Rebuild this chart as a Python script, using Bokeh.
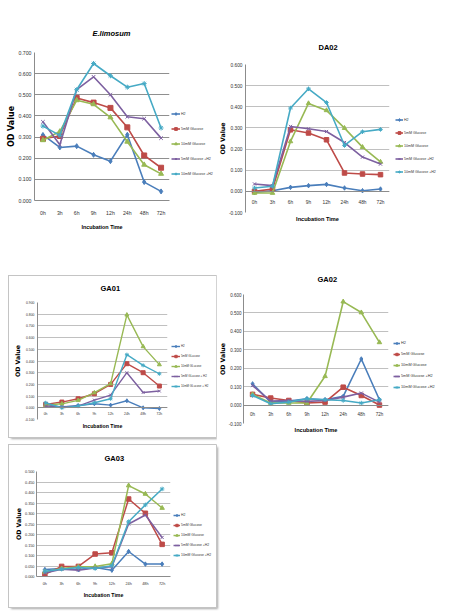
from bokeh.plotting import figure
from bokeh.models import (FactorRange, Range1d, FixedTicker, NumeralTickFormatter,
                          Legend, LegendItem, Title, Spacer)
from bokeh.layouts import row, column
from bokeh.embed import file_html
from bokeh.resources import INLINE

cats = ["0h", "3h", "6h", "9h", "12h", "24h", "48h", "72h"]

# E.limosum
el_h2 = [0.310, 0.251, 0.257, 0.216, 0.186, 0.311, 0.087, 0.043]
el_g5 = [0.292, 0.305, 0.485, 0.463, 0.438, 0.346, 0.213, 0.155]
el_g10 = [0.285, 0.326, 0.474, 0.455, 0.393, 0.278, 0.169, 0.126]
el_g5h2 = [0.372, 0.264, 0.524, 0.585, 0.500, 0.396, 0.387, 0.295]
el_g10h2 = [0.352, 0.308, 0.524, 0.648, 0.590, 0.536, 0.553, 0.343]
el_ticks = [0.0, 0.1, 0.2, 0.3, 0.4, 0.5, 0.6, 0.7]
el_labels = ["H2", "5mM Glucose", "10mM Glucose", "5mM Glucose +H2", "10mM Glucose +H2"]

# DA02
da_h2 = [-0.005, 0.003, 0.019, 0.027, 0.033, 0.016, 0.003, 0.011]
da_g5 = [0.000, 0.011, 0.291, 0.276, 0.244, 0.087, 0.082, 0.079]
da_g10 = [-0.008, -0.008, 0.236, 0.416, 0.383, 0.299, 0.209, 0.139]
da_g5h2 = [0.035, 0.027, 0.307, 0.296, 0.283, 0.231, 0.162, 0.129]
da_g10h2 = [0.016, 0.024, 0.394, 0.485, 0.420, 0.217, 0.282, 0.293]
da_ticks = [-0.1, 0.0, 0.1, 0.2, 0.3, 0.4, 0.5, 0.6]
da_labels = ["H2", "5mM Glucose", "10mM Glucose", "5mM Glucose +H2", "10mM Glucose +H2"]

# GA01
g1_h2 = [0.029, 0.006, 0.020, 0.034, 0.023, 0.060, 0.000, -0.006]
g1_g5 = [0.029, 0.049, 0.077, 0.120, 0.200, 0.377, 0.300, 0.186]
g1_g10 = [0.023, 0.034, 0.063, 0.129, 0.206, 0.794, 0.523, 0.369]
g1_g5h2 = [0.014, 0.009, 0.014, 0.066, 0.109, 0.300, 0.131, 0.143]
g1_g10h2 = [0.043, 0.000, 0.014, 0.043, 0.077, 0.454, 0.363, 0.291]
g1_ticks = [-0.1, 0.0, 0.1, 0.2, 0.3, 0.4, 0.5, 0.6, 0.7, 0.8, 0.9]
g1_labels = ["H2", "5mM GLucose", "10mM GLucose", "5mM GLucose + H2", "10mM GLucose + H2"]

# GA02
g2_h2 = [0.115, 0.016, 0.022, 0.034, 0.029, 0.047, 0.250, 0.029]
g2_g5 = [0.058, 0.038, 0.025, 0.011, 0.016, 0.097, 0.052, 0.000]
g2_g10 = [0.058, 0.011, 0.011, 0.011, 0.156, 0.561, 0.502, 0.340]
g2_g5h2 = [0.106, 0.022, 0.025, 0.020, 0.025, 0.043, 0.065, 0.016]
g2_g10h2 = [0.052, 0.007, 0.016, 0.034, 0.029, 0.025, 0.011, 0.029]
g2_ticks = [-0.1, 0.0, 0.1, 0.2, 0.3, 0.4, 0.5, 0.6]
g2_labels = ["H2", "5mM Glucose", "10mM Glucose", "5mM Glucose +H2", "10mM Glucose +H2"]

# GA03
g3_h2 = [0.033, 0.038, 0.033, 0.043, 0.030, 0.119, 0.059, 0.059]
g3_g5 = [0.010, 0.048, 0.048, 0.107, 0.113, 0.369, 0.301, 0.153]
g3_g10 = [0.022, 0.038, 0.046, 0.048, 0.061, 0.433, 0.393, 0.326]
g3_g5h2 = [0.016, 0.035, 0.030, 0.040, 0.046, 0.250, 0.293, 0.186]
g3_g10h2 = [0.025, 0.035, 0.043, 0.038, 0.051, 0.261, 0.341, 0.417]
g3_ticks = [0.0, 0.05, 0.1, 0.15, 0.2, 0.25, 0.3, 0.35, 0.4, 0.45, 0.5]
g3_labels = ["H2", "5mM Glucose", "10mM Glucose", "5mM Glucose +H2", "10mM Glucose +H2"]

COLORS = ["#4A7EBB", "#BE4B48", "#98B954", "#7D60A0", "#46AAC5"]
MARKERS = ["diamond", "square", "triangle", "x", "asterisk"]
BASE = "Liberation Sans"
WIDE = "DejaVu Sans"
BOX = {"outline": "1px solid #c4c4c4", "box-shadow": "2px 2px 2px #a8a8a8"}


def main_fig(s):
    W, H = s["W"], s["H"]
    bl, br, bt, bb = s["borders"]
    p = figure(width=W, height=H, x_range=FactorRange(factors=cats, range_padding=0),
               y_range=Range1d(s["ticks"][0], s["ticks"][-1]),
               output_backend="svg", toolbar_location=None,
               min_border_left=bl, min_border_right=br, min_border_top=bt, min_border_bottom=bb,
               background_fill_color="white", border_fill_color="white",
               outline_line_color=None)
    for i, vals in enumerate(s["series"]):
        p.line(cats, vals, line_color=COLORS[i], line_width=s["lw"])
        p.scatter(cats, vals, marker=MARKERS[i], size=s["ms"],
                  fill_color=COLORS[i], line_color=COLORS[i], line_width=1)

    tf = f"{s['tick_fs']}px"
    ya = p.yaxis[0]
    ya.ticker = FixedTicker(ticks=s["ticks"])
    ya.formatter = NumeralTickFormatter(format="0.000")
    ya.major_label_text_font = BASE
    ya.major_label_text_font_size = tf
    ya.major_label_text_color = "#333333"
    ya.major_label_standoff = s["ystand"]
    ya.major_tick_line_color = None
    ya.major_tick_out = 0
    ya.major_tick_in = 0
    ya.minor_tick_line_color = None
    ya.minor_tick_out = 0
    ya.minor_tick_in = 0
    ya.axis_line_color = "#8c8c8c"

    xa = p.xaxis[0]
    xa.major_label_text_font = BASE
    xa.major_label_text_font_size = tf
    xa.major_label_text_color = "#333333"
    xa.major_label_standoff = s["xstand"]
    xa.major_tick_line_color = None
    xa.major_tick_out = 0
    xa.major_tick_in = 0
    xa.axis_line_color = "#8c8c8c"
    if s["fixed"]:
        xa.fixed_location = 0

    p.xgrid.visible = False
    p.ygrid.grid_line_color = s["grid"]
    p.ygrid.grid_line_width = 1

    p.title.text = s["title"]
    p.title.align = "left"
    p.title.vertical_align = "top"
    p.title.offset = s["title_off"]
    p.title.standoff = s["title_stand"]
    p.title.text_font = BASE
    p.title.text_font_style = s["title_style"]
    p.title.text_font_size = f"{s['title_fs']}px"
    p.title.text_color = "#000000"

    p.add_layout(Title(text="Incubation Time", align="center",
                       standoff=s["it_stand"], text_font=BASE, text_font_style="bold",
                       text_font_size=f"{s['it_fs']}px", text_color="#000000"), "below")
    p.add_layout(Title(text="OD Value", align="center", standoff=s["od_stand"],
                       text_font=WIDE, text_font_style="bold",
                       text_font_size=f"{s['od_fs']}px", text_color="#000000"), "left")
    return p


def legend_block(s):
    # the legend is a small separate figure placed to the right of the plot area;
    # its renderers hold the real series but lie outside its (hidden) y-range
    h, sp = s["leg_h"], s["leg_sp"]
    Lh = 5 * h + 4 * sp
    LW = s["LW"]
    dx = s["leg_left"] - (s["px"] + s["W"])
    t = int(round(s["leg_first"] - h / 2.0 - s["py"]))
    lf = figure(width=LW - dx, height=Lh, x_axis_type=None, y_axis_type=None,
                x_range=FactorRange(factors=cats), y_range=Range1d(50, 60),
                output_backend="svg", toolbar_location=None, min_border=0,
                background_fill_color="white", border_fill_color="white",
                outline_line_color=None)
    items = []
    for i, (vals, lab) in enumerate(zip(s["series"], s["labels"])):
        r1 = lf.line(cats, vals, line_color=COLORS[i], line_width=s["lw"])
        r2 = lf.scatter(cats, vals, marker=MARKERS[i], size=s["ms"] - 0.5,
                        fill_color=COLORS[i], line_color=COLORS[i], line_width=1)
        items.append(LegendItem(label=lab, renderers=[r1, r2]))
    leg = Legend(items=items, location="top_left",
                 orientation="vertical", padding=0, margin=0, spacing=sp,
                 glyph_height=h, glyph_width=s["leg_gw"], label_height=h, label_standoff=1,
                 label_text_font=BASE, label_text_font_size=f"{s['leg_fs']}px",
                 label_text_color="#333333",
                 border_line_color=None, background_fill_alpha=0)
    lf.add_layout(leg)
    parts = [Spacer(width=LW, height=t)]
    if dx > 0:
        parts.append(row(Spacer(width=dx, height=Lh), lf))
    else:
        parts.append(lf)
    parts.append(Spacer(width=LW, height=s["H"] - t - Lh))
    return column(*parts)


def chart(s):
    kw = {"styles": BOX} if s.get("box") else {}
    return row(main_fig(s), legend_block(s), **kw)


s1 = dict(title="E.limosum", title_style="bold italic", title_fs=7.5, title_off=58, title_stand=25,
          series=[el_h2, el_g5, el_g10, el_g5h2, el_g10h2], labels=el_labels, ticks=el_ticks,
          px=4, py=8, W=167, H=228, LW=45, borders=(30, 2, 44, 36), fixed=False,
          grid="#8f8f8f", lw=1.6, ms=5,
          leg_left=171, leg_first=114, leg_h=7, leg_sp=8, leg_gw=9, leg_fs=3.6,
          tick_fs=5.2, ystand=3, xstand=9, it_fs=5.4, it_stand=6,
          od_fs=8, od_stand=0)

s2 = dict(title="DA02", title_style="bold", title_fs=7.5, title_off=73, title_stand=21,
          series=[da_h2, da_g5, da_g10, da_g5h2, da_g10h2], labels=da_labels, ticks=da_ticks,
          px=216, py=8, W=175, H=228, LW=51, borders=(28, 2, 56, 24), fixed=True,
          grid="#c0c0c0", lw=1.6, ms=4.5,
          leg_left=395, leg_first=119.5, leg_h=7, leg_sp=6, leg_gw=8, leg_fs=3.6,
          tick_fs=4.8, ystand=3, xstand=9, it_fs=5.6, it_stand=3,
          od_fs=6.2, od_stand=0)

s3 = dict(title="GA01", title_style="bold", title_fs=7.5, title_off=63, title_stand=15,
          series=[g1_h2, g1_g5, g1_g10, g1_g5h2, g1_g10h2], labels=g1_labels, ticks=g1_ticks,
          px=9, py=276, W=159, H=161, LW=48, borders=(28, 1, 26, 18), fixed=True, box=True,
          grid="#c0c0c0", lw=1.4, ms=4,
          leg_left=171, leg_first=346, leg_h=6, leg_sp=4, leg_gw=9, leg_fs=2.9,
          tick_fs=3.4, ystand=3, xstand=4, it_fs=5.2, it_stand=2,
          od_fs=6.2, od_stand=1)

s4 = dict(title="GA02", title_style="bold", title_fs=7.5, title_off=74, title_stand=17,
          series=[g2_h2, g2_g5, g2_g10, g2_g5h2, g2_g10h2], labels=g2_labels, ticks=g2_ticks,
          px=216, py=266, W=174, H=179, LW=52, borders=(26, 2, 28, 22), fixed=True,
          grid="#c0c0c0", lw=1.6, ms=4.5,
          leg_left=393, leg_first=343, leg_h=6, leg_sp=5, leg_gw=7, leg_fs=3.8,
          tick_fs=4.5, ystand=2, xstand=7, it_fs=5.6, it_stand=3,
          od_fs=6.2, od_stand=0)

s5 = dict(title="GA03", title_style="bold", title_fs=7.5, title_off=68, title_stand=13,
          series=[g3_h2, g3_g5, g3_g10, g3_g5h2, g3_g10h2], labels=g3_labels, ticks=g3_ticks,
          px=9, py=445, W=162, H=162, LW=45, borders=(27, 1, 26, 31), fixed=False, box=True,
          grid="#c0c0c0", lw=1.5, ms=4.5,
          leg_left=173, leg_first=515, leg_h=6, leg_sp=4, leg_gw=7, leg_fs=3.4,
          tick_fs=3.8, ystand=2, xstand=5, it_fs=5.2, it_stand=3,
          od_fs=6.2, od_stand=0)

left = column(
    Spacer(width=216, height=8),
    row(Spacer(width=4, height=228), chart(s1)),
    Spacer(width=216, height=40),
    row(Spacer(width=9, height=161), chart(s3)),
    Spacer(width=216, height=8),
    row(Spacer(width=9, height=162), chart(s5)),
)
right = column(
    Spacer(width=226, height=8),
    chart(s2),
    Spacer(width=226, height=30),
    chart(s4),
)
layout = row(left, right)

open("out.html", "w").write(file_html(layout, INLINE))
